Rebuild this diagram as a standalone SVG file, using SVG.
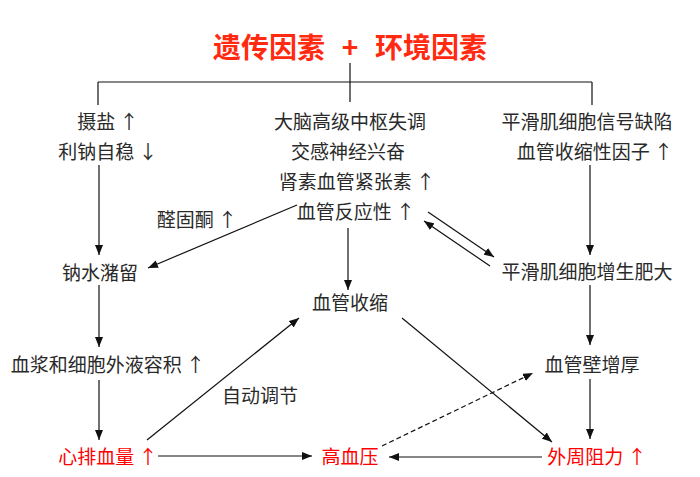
<svg xmlns="http://www.w3.org/2000/svg" width="700" height="477" viewBox="0 0 700 477">
<style>
.t{font-family:"Noto Sans CJK SC","Liberation Serif",sans-serif;font-size:19px;fill:#2a2a2a;text-anchor:middle}
.r{fill:#ff0000}
.title{font-family:"Noto Sans CJK SC",sans-serif;font-size:28px;font-weight:bold;fill:#ff2a10;text-anchor:middle}
.c{stroke:#111;stroke-width:1.2;fill:none}
.a{marker-end:url(#ah)}
.d{stroke-dasharray:5 3}
</style>
<defs>
<marker id="ah" markerUnits="userSpaceOnUse" markerWidth="10" markerHeight="8" refX="10" refY="4" orient="auto">
<path d="M0,0 L10,4 L0,8 z" fill="#111"/>
</marker>
</defs>
<rect width="700" height="477" fill="#fff"/>
<g id="title"><text class="title" x="269" y="58">遗传因素</text><text class="title" x="350" y="58">+</text><text class="title" x="431" y="58">环境因素</text></g>
<g id="connectors">
<path class="c" d="M350,63 V102 M98,82 H592 M98,82 V105 M592,82 V105"/>
<path class="c a" d="M99,165 V255"/>
<path class="c a" d="M99,285 V347"/>
<path class="c a" d="M99,380 V440"/>
<path class="c a" d="M158,456 H312"/>
<path class="c a" d="M147,440 L299,318"/>
<path class="c a" d="M297,205 L148,268"/>
<path class="c a" d="M348,228 V290"/>
<path class="c a" d="M402,318 L552,442"/>
<path class="c a" d="M428,212 L494,257"/>
<path class="c a" d="M490,266 L424,221"/>
<path class="c a" d="M590,165 V255"/>
<path class="c a" d="M590,285 V345"/>
<path class="c a" d="M590,379 V439"/>
<path class="c a" d="M542,457 H389"/>
<path class="c a d" d="M382,446 L533,373"/>
</g>
<g id="salt"><text class="t" x="108" y="129">摄盐 ↑</text><text class="t" x="108" y="159">利钠自稳 ↓</text></g>
<g id="brain"><text class="t" x="350" y="129">大脑高级中枢失调</text><text class="t" x="348" y="159">交感神经兴奋</text><text class="t" x="357" y="189">肾素血管紧张素 ↑</text><text class="t" x="356" y="219">血管反应性 ↑</text></g>
<g id="smc"><text class="t" x="587" y="129">平滑肌细胞信号缺陷</text><text class="t" x="595" y="159">血管收缩性因子 ↑</text></g>
<g id="aldo"><text class="t" x="197" y="227">醛固酮 ↑</text></g>
<g id="sodium"><text class="t" x="100" y="280">钠水潴留</text></g>
<g id="vasocon"><text class="t" x="350" y="310">血管收缩</text></g>
<g id="hyper"><text class="t" x="587" y="279">平滑肌细胞增生肥大</text></g>
<g id="plasma"><text class="t" x="108" y="372">血浆和细胞外液容积 ↑</text></g>
<g id="auto"><text class="t" x="260" y="403">自动调节</text></g>
<g id="wall"><text class="t" x="592" y="372">血管壁增厚</text></g>
<g id="co"><text class="t r" x="108" y="464">心排血量 ↑</text></g>
<g id="htn"><text class="t r" x="350" y="464">高血压</text></g>
<g id="pr"><text class="t r" x="597" y="464">外周阻力 ↑</text></g>
</svg>
